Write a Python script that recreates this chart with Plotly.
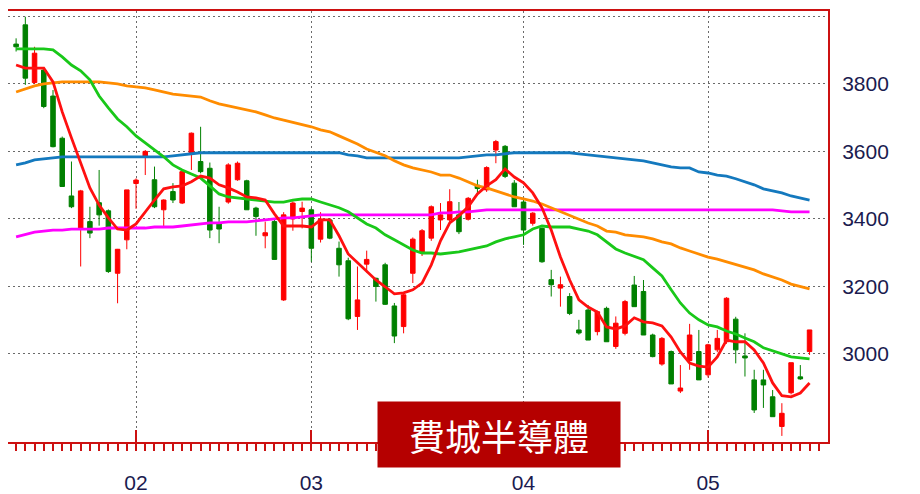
import plotly.graph_objects as go

# trading-day index (mid-Jan .. mid-May)
day_index = list(range(87))
month_pos = [13, 32, 55, 75]
month_labels = ["02", "03", "04", "05"]

opens = [3918,3975,3804,3841,3764,3639,3468,3372,3392,3448,
         3424,3239,3338,3505,3585,3516,3427,3481,3447,3595,
         3570,3550,3385,3450,3516,3513,3432,3350,3392,3160,
         3400,3422,3427,3340,3397,3313,3276,3111,3266,3224,
         3264,3142,3081,3239,3300,3343,3397,3397,3412,3399,
         3500,3486,3604,3615,3506,3450,3387,3372,3220,3195,
         3170,3071,3130,3066,3135,3022,3061,3204,3185,3056,
         2970,3007,2890,2980,3007,2938,3012,3036,3103,2994,
         2923,2923,2873,2785,2885,2932,3007]
highs = [3935,3999,3910,3846,3782,3644,3570,3486,3436,3545,
         3428,3311,3486,3520,3604,3555,3458,3506,3545,3656,
         3673,3567,3436,3565,3570,3516,3436,3392,3397,3420,
         3452,3451,3433,3420,3402,3333,3285,3259,3306,3226,
         3270,3151,3180,3345,3370,3440,3447,3488,3450,3465,
         3516,3556,3634,3619,3515,3460,3420,3375,3249,3229,
         3180,3101,3145,3128,3140,3111,3160,3231,3219,3060,
         3050,3010,2967,3089,3071,3030,3071,3168,3110,3061,
         2953,2953,2893,2854,2974,2967,3071]
lows = [3896,3797,3800,3728,3612,3496,3432,3259,3343,3380,
        3240,3150,3310,3430,3530,3432,3377,3447,3444,3545,
        3535,3343,3328,3445,3513,3427,3350,3313,3280,3157,
        3365,3372,3273,3330,3340,3229,3100,3071,3241,3155,
        3145,3032,3061,3210,3290,3335,3367,3390,3355,3395,
        3471,3480,3565,3521,3436,3323,3380,3270,3170,3140,
        3115,3057,3041,3055,3036,3015,3055,3140,3056,2990,
        2965,2911,2884,2953,2923,2930,3005,3030,2972,2933,
        2825,2840,2814,2757,2880,2923,2997]
closes = [3910,3817,3891,3733,3614,3496,3436,3483,3358,3412,
          3244,3310,3486,3515,3600,3436,3456,3456,3540,3654,
          3540,3367,3370,3560,3565,3427,3407,3359,3280,3412,
          3447,3432,3313,3399,3343,3264,3104,3160,3280,3200,
          3147,3053,3175,3340,3365,3436,3412,3451,3362,3461,
          3490,3552,3629,3526,3436,3367,3417,3273,3205,3205,
          3120,3062,3041,3125,3036,3091,3155,3140,3056,2992,
          3046,2911,2899,3056,2923,3027,3046,3165,3012,2988,
          2834,2908,2814,2824,2974,2926,3071]

ma5 = [3856,3847,3847,3847,3806,3717,3640,3566,3492,3441,
       3403,3370,3367,3385,3421,3456,3489,3495,3498,3510,
       3527,3521,3501,3492,3480,3465,3462,3456,3415,3379,
       3379,3379,3376,3397,3397,3350,3296,3270,3243,3219,
       3199,3178,3181,3190,3210,3264,3335,3388,3409,3436,
       3474,3498,3516,3548,3524,3507,3477,3433,3367,3287,
       3219,3160,3139,3124,3080,3074,3083,3107,3095,3092,
       3083,3050,3006,2973,2964,2961,2991,3041,3036,3036,
       3012,2973,2914,2876,2873,2884,2914]
ma20 = [3904,3904,3904,3904,3901,3880,3856,3839,3812,3764,
        3729,3696,3673,3646,3625,3604,3584,3560,3545,3533,
        3521,3498,3474,3465,3462,3459,3456,3453,3450,3450,
        3456,3459,3459,3450,3441,3433,3421,3403,3385,3373,
        3353,3338,3323,3308,3299,3299,3296,3299,3302,3308,
        3314,3320,3332,3341,3347,3353,3370,3379,3376,3376,
        3376,3370,3364,3353,3332,3311,3299,3290,3279,3255,
        3231,3190,3151,3121,3101,3086,3080,3068,3059,3047,
        3036,3018,3009,3000,2991,2988,2985]
ma60 = [3776,3785,3794,3800,3803,3806,3806,3806,3806,3806,
        3803,3800,3794,3791,3788,3782,3776,3770,3767,3764,
        3761,3750,3741,3735,3729,3723,3717,3708,3699,3693,
        3687,3679,3673,3664,3658,3646,3634,3622,3607,3596,
        3587,3572,3560,3551,3545,3539,3530,3530,3521,3510,
        3498,3492,3483,3474,3465,3459,3453,3444,3433,3421,
        3409,3400,3388,3379,3364,3361,3353,3350,3347,3341,
        3332,3326,3314,3305,3296,3287,3281,3273,3264,3255,
        3249,3237,3228,3219,3207,3199,3193]
ma120 = [3560,3566,3575,3578,3581,3584,3584,3584,3584,3584,
         3584,3584,3584,3584,3584,3584,3584,3587,3590,3593,
         3596,3596,3596,3596,3596,3596,3596,3596,3596,3596,
         3596,3596,3596,3596,3596,3596,3590,3587,3581,3581,
         3581,3581,3581,3581,3581,3581,3581,3581,3581,3584,
         3587,3590,3590,3593,3596,3596,3596,3596,3596,3596,
         3596,3593,3590,3587,3584,3581,3578,3575,3572,3566,
         3560,3554,3551,3551,3539,3536,3530,3527,3519,3510,
         3501,3489,3483,3477,3468,3462,3456]
ma240 = [3347,3353,3361,3364,3367,3367,3370,3370,3370,3370,
         3373,3373,3373,3373,3373,3376,3376,3376,3379,3382,
         3385,3388,3388,3391,3391,3391,3394,3397,3400,3403,
         3403,3406,3409,3412,3412,3412,3412,3412,3412,3412,
         3412,3412,3412,3412,3412,3412,3418,3418,3421,3421,
         3424,3427,3427,3427,3427,3427,3427,3427,3427,3427,
         3427,3427,3427,3427,3427,3427,3427,3427,3427,3427,
         3427,3427,3427,3427,3427,3427,3427,3427,3427,3427,
         3427,3427,3427,3424,3421,3421,3421]

y_ticks = [3000, 3200, 3400, 3600, 3800, 4000]
y_tick_text = ["3000", "3200", "3400", "3600", "3800", ""]
title_text = "費城半導體"

for arr in (opens, highs, lows, closes, ma5, ma20, ma60, ma120, ma240):
    assert len(arr) == len(day_index), len(arr)

RED = "#ff0000"
DGREEN = "#008000"
FRAME = "#cc1111"
LABEL = "#1b1b4f"
GRID = "#6a6a6a"
FONT = "Liberation Sans, Arial, sans-serif"

fig = go.Figure()
fig.add_trace(go.Candlestick(
    x=day_index, open=opens, high=highs, low=lows, close=closes,
    increasing=dict(line=dict(color=RED, width=1), fillcolor=RED),
    decreasing=dict(line=dict(color=DGREEN, width=1), fillcolor=DGREEN),
    whiskerwidth=0, showlegend=False, hoverinfo="skip"))

lines = [
    (ma240, "#ff00ff"),
    (ma120, "#1479be"),
    (ma60, "#ff8c00"),
    (ma20, "#19c819"),
    (ma5, "#ff1010"),
]
for vals, col in lines:
    fig.add_trace(go.Scatter(x=day_index, y=vals, mode="lines",
                             line=dict(color=col, width=2.8),
                             showlegend=False, hoverinfo="skip"))

# the page body adds an 8px margin, so the figure is sized/placed to compensate
fig.update_layout(
    width=912, height=486,
    margin=dict(l=0, r=92, t=3, b=52, pad=0, autoexpand=False),
    paper_bgcolor="white", plot_bgcolor="white",
    showlegend=False,
    xaxis=dict(
        range=[-0.878, 88.0], rangeslider=dict(visible=False),
        automargin=False,
        tickmode="array", tickvals=month_pos, ticktext=month_labels,
        ticks="inside", ticklen=12, tickwidth=1.5, tickcolor=FRAME,
        showgrid=True, gridcolor=GRID, griddash="1.5px,3.5px", gridwidth=1.3,
        showline=True, linecolor=FRAME, linewidth=2, mirror=True,
        zeroline=False,
        tickfont=dict(family=FONT, size=21, color=LABEL),
        ticklabelstandoff=21,
        minor=dict(ticks="outside", ticklen=7, tickwidth=1.5, tickcolor=FRAME,
                   dtick=1, tick0=0, showgrid=False),
    ),
    yaxis=dict(
        side="right", range=[2739, 4016],
        automargin=False,
        tickmode="array", tickvals=y_ticks, ticktext=y_tick_text,
        ticks="", showgrid=True, gridcolor=GRID, griddash="1.5px,3.5px", gridwidth=1.3,
        showline=True, linecolor=FRAME, linewidth=2, mirror=True,
        zeroline=False,
        tickfont=dict(family=FONT, size=21, color=LABEL),
        ticklabelstandoff=8,
    ),
    annotations=[dict(
        text=title_text, xref="paper", yref="paper",
        x=0.5988, y=0.0174, xanchor="center", yanchor="middle",
        showarrow=False, bgcolor="#b50000", borderpad=0,
        width=242, height=65,
        font=dict(family="Noto Sans CJK TC, Noto Sans CJK SC, sans-serif",
                  size=36, color="white"),
    )],
)

fig.write_html("out.html")
